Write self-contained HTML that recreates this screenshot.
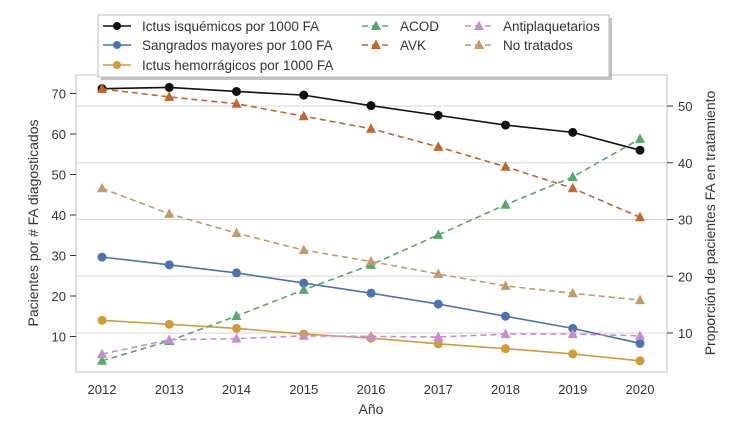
<!DOCTYPE html>
<html><head><meta charset="utf-8"><style>
body{margin:0;background:#fff;}
svg text{font-family:"Liberation Sans",sans-serif;fill:#333;}
</style></head><body>
<svg id="chart" width="750" height="428" xmlns="http://www.w3.org/2000/svg">
<g id="grid"></g>
<rect x="76" y="75" width="591" height="297" fill="none" stroke="#ccc" stroke-width="1.2"/>
<g id="axes"></g>
<g id="series"></g>
<g id="legend"></g>
<text x="371" y="414" font-size="14" text-anchor="middle">Año</text>
<text transform="translate(38,223) rotate(-90)" font-size="14" text-anchor="middle">Pacientes por # FA diagosticados</text>
<text transform="translate(715,223) rotate(-90)" font-size="14" text-anchor="middle">Proporción de pacientes FA en tratamiento</text>
</svg>
<script>
const years=[2012,2013,2014,2015,2016,2017,2018,2019,2020];
const leftTicks=[10,20,30,40,50,60,70];
const rightTicks=[10,20,30,40,50];
const ictusIsq=[71.2,71.5,70.5,69.6,67,64.6,62.2,60.4,56];
const sangrados=[29.6,27.7,25.7,23.2,20.7,18,15,12,8.3];
const ictusHem=[14,13,12,10.6,9.6,8.2,7,5.7,4];
const acod=[5.1,8.6,13,17.6,22,27.3,32.6,37.5,44.2];
const avk=[53,51.6,50.4,48.2,46,42.8,39.3,35.5,30.4];
const antiplaq=[6.3,8.8,9,9.5,9.4,9.3,9.8,9.8,9.5];
const noTratados=[35.5,31,27.6,24.6,22.6,20.4,18.3,17,15.8];
const NS="http://www.w3.org/2000/svg";
const x=y=>102+(y-2012)*67.25;
const yL=v=>93.5+(70-v)*4.05;
const yR=v=>106+(50-v)*5.675;
function mk(t,a,p){const e=document.createElementNS(NS,t);for(const k in a)e.setAttribute(k,a[k]);(p||document.getElementById('series')).appendChild(e);return e;}
const grid=document.getElementById('grid'),axes=document.getElementById('axes');
rightTicks.forEach(v=>{const l=mk('line',{x1:76,x2:667,y1:yR(v),y2:yR(v),stroke:'#d6d6d6','stroke-width':1},grid);


const t=mk('line',{x1:667,x2:673,y1:yR(v),y2:yR(v),stroke:'#333'},axes);


const tx=mk('text',{x:678,y:yR(v)+5,'font-size':13},axes);tx.textContent=v;

});
leftTicks.forEach(v=>{const t=mk('line',{x1:70,x2:76,y1:yL(v),y2:yL(v),stroke:'#333'},axes);


const tx=mk('text',{x:66,y:yL(v)+5,'font-size':13,'text-anchor':'end'},axes);tx.textContent=v;

});
years.forEach(yr=>{const tx=mk('text',{x:x(yr),y:394,'font-size':13,'text-anchor':'middle'},axes);tx.textContent=yr;

});
function tri(cx,cy,c,p){return mk('polygon',{points:`${cx},${cy-5.5} ${cx-5},${cy+4} ${cx+5},${cy+4}`,fill:c},p);}
function series(name,vals,sc,color,dash,marker){
 const g=mk('g',{});
 
 
 mk('polyline',{points:vals.map((v,i)=>x(years[i])+','+sc(v)).join(' '),fill:'none',stroke:color,'stroke-width':1.6,'stroke-dasharray':dash?'6,4':'none'},g);
 vals.forEach((v,i)=>{const m=marker==='o'?mk('circle',{cx:x(years[i]),cy:sc(v),r:4.5,fill:color},g):tri(x(years[i]),sc(v),color,g);
  
  });
}
const cols={isq:'#111',sang:'#4c72b0',hem:'#d19a3a',acod:'#55a868',avk:'#c0652b',anti:'#c88bd0',no:'#c19a6b'};
series('ictus-isquemicos',ictusIsq,yL,cols.isq,false,'o');
series('sangrados',sangrados,yL,cols.sang,false,'o');
series('ictus-hemorragicos',ictusHem,yL,cols.hem,false,'o');
series('acod',acod,yR,cols.acod,true,'^');
series('avk',avk,yR,cols.avk,true,'^');
series('antiplaquetarios',antiplaq,yR,cols.anti,true,'^');
series('no-tratados',noTratados,yR,cols.no,true,'^');
const lg=document.getElementById('legend');
mk('rect',{x:101,y:18,width:511,height:62,fill:'#999',opacity:0.6},lg);
mk('rect',{x:98,y:15,width:511,height:62,fill:'#fff',stroke:'#bbb'},lg);
const items=[['Ictus isquémicos por 1000 FA',cols.isq,'o',103,26],['Sangrados mayores por 100 FA',cols.sang,'o',103,45],['Ictus hemorrágicos por 1000 FA',cols.hem,'o',103,65],
['ACOD',cols.acod,'^',362,26],['AVK',cols.avk,'^',362,45],['Antiplaquetarios',cols.anti,'^',465,26],['No tratados',cols.no,'^',465,45]];
items.forEach(([lab,c,m,lx,ly])=>{
 const g=mk('g',{},lg);
 
 
 mk('line',{x1:lx,x2:lx+28,y1:ly,y2:ly,stroke:c,'stroke-width':1.6,'stroke-dasharray':m==='o'?'none':'6,4'},g);
 if(m==='o')mk('circle',{cx:lx+14,cy:ly,r:4,fill:c},g);else tri(lx+14,ly,c,g);
 const t=mk('text',{x:lx+(m==='o'?39:38),y:ly+5,'font-size':13.5},g);t.textContent=lab;
});
</script>
</body></html>
